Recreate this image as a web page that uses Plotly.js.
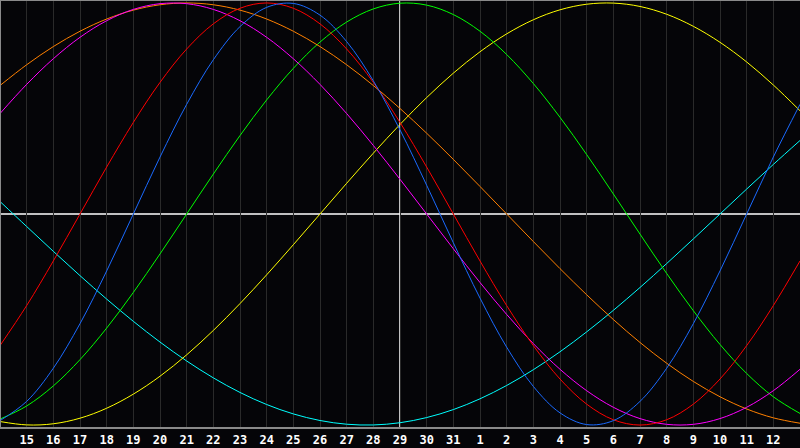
<!DOCTYPE html>
<html>
<head>
<meta charset="utf-8">
<script src="https://cdn.plot.ly/plotly-3.0.1.min.js"></script>
<style>
html,body{margin:0;padding:0;background:#050508;}
#chart{width:800px;height:448px;}
</style>
</head>
<body>
<div id="chart"></div>
<script>
// day positions (0 = day 14, 30 = day 13 of next month)
var dayIndex = [0,1,2,3,4,5,6,7,8,9,10,11,12,13,14,15,16,17,18,19,20,21,22,23,24,25,26,27,28,29,30];
var tickPositions = [1,2,3,4,5,6,7,8,9,10,11,12,13,14,15,16,17,18,19,20,21,22,23,24,25,26,27,28,29];
var tickLabels = ["15","16","17","18","19","20","21","22","23","24","25","26","27","28","29","30","31","1","2","3","4","5","6","7","8","9","10","11","12"];
var todayIndex = 15;

var physical23 = [-0.9791,-0.8879,-0.7308,-0.5196,-0.2698,0,0.2698,0.5196,0.7308,0.8879,0.9791,0.9977,0.9423,0.8170,0.6310,0.3984,0.1362,-0.1362,-0.3984,-0.6310,-0.8170,-0.9423,-0.9977,-0.9791,-0.8879,-0.7308,-0.5196,-0.2698,0,0.2698,0.5196];
var emotional28 = [-0.6235,-0.4339,-0.2225,0,0.2225,0.4339,0.6235,0.7818,0.9010,0.9749,1,0.9749,0.9010,0.7818,0.6235,0.4339,0.2225,0,-0.2225,-0.4339,-0.6235,-0.7818,-0.9010,-0.9749,-1,-0.9749,-0.9010,-0.7818,-0.6235,-0.4339,-0.2225];
var intellectual33 = [-0.9718,-0.9096,-0.8146,-0.6901,-0.5406,-0.3717,-0.1893,0,0.1893,0.3717,0.5406,0.6901,0.8146,0.9096,0.9718,0.9989,0.9898,0.9450,0.8660,0.7557,0.6182,0.4582,0.2817,0.0951,-0.0951,-0.2817,-0.4582,-0.6182,-0.7557,-0.8660,-0.9450];
var intuitive38 = [0.4759,0.6142,0.7357,0.8372,0.9158,0.9694,0.9966,0.9966,0.9694,0.9158,0.8372,0.7357,0.6142,0.4759,0.3247,0.1646,0,-0.1646,-0.3247,-0.4759,-0.6142,-0.7357,-0.8372,-0.9158,-0.9694,-0.9966,-0.9966,-0.9694,-0.9158,-0.8372,-0.7357];
var aesthetic43 = [-0.9834,-0.9993,-0.9940,-0.9675,-0.9203,-0.8535,-0.7687,-0.6673,-0.5517,-0.4244,-0.2881,-0.1456,0,0.1456,0.2881,0.4244,0.5517,0.6673,0.7687,0.8535,0.9203,0.9675,0.9940,0.9993,0.9834,0.9465,0.8893,0.8135,0.7204,0.6112,0.4894];
var awareness48 = [0.6088,0.7071,0.7934,0.8660,0.9239,0.9659,0.9914,1,0.9914,0.9659,0.9239,0.8660,0.7934,0.7071,0.6088,0.5,0.3827,0.2588,0.1305,0,-0.1305,-0.2588,-0.3827,-0.5,-0.6088,-0.7071,-0.7934,-0.8660,-0.9239,-0.9659,-0.9914];
var spiritual53 = [0.0593,-0.0593,-0.1769,-0.2921,-0.4031,-0.5085,-0.6068,-0.6965,-0.7764,-0.8456,-0.9028,-0.9473,-0.9785,-0.9961,-0.9996,-0.9890,-0.9646,-0.9267,-0.8757,-0.8125,-0.7378,-0.6528,-0.5585,-0.4566,-0.3482,-0.2349,-0.1182,0,0.1182,0.2349,0.3482];

var seriesList = [
  {name:"Spiritual", y:spiritual53, color:"#00ffff"},
  {name:"Aesthetic", y:aesthetic43, color:"#ffff00"},
  {name:"Intellectual", y:intellectual33, color:"#00ff00"},
  {name:"Awareness", y:awareness48, color:"#ff8000"},
  {name:"Intuitive", y:intuitive38, color:"#ff00ff"},
  {name:"Emotional", y:emotional28, color:"#ff0000"},
  {name:"Physical", y:physical23, color:"#1a6aff"}
];

var traces = seriesList.map(function(s){
  return {x:dayIndex, y:s.y, type:"scatter", mode:"lines", name:s.name,
    line:{color:s.color, width:1, shape:"spline", smoothing:1.0}, hoverinfo:"skip"};
});

var layout = {
  width:800, height:448,
  margin:{l:0, r:0, t:0, b:20, pad:0},
  paper_bgcolor:"#050508",
  plot_bgcolor:"#050508",
  showlegend:false,
  xaxis:{range:[0,30], tickmode:"array", tickvals:tickPositions, ticktext:tickLabels,
    showgrid:true, gridcolor:"#2a2a2a", gridwidth:1, zeroline:false, showline:false,
    ticks:"", ticklen:0, ticklabelstandoff:3,
    tickfont:{family:"DejaVu Sans Mono", size:12, color:"#ffffff", weight:"bold"}, fixedrange:true},
  yaxis:{range:[-1.014,1.014], showgrid:false, zeroline:false, showticklabels:false, showline:false, ticks:"", fixedrange:true},
  shapes:[
    {type:"line", xref:"paper", yref:"paper", x0:0, x1:1, y0:0, y1:0, line:{color:"#8a8a8a", width:2}},
    {type:"line", xref:"paper", yref:"paper", x0:0, x1:0, y0:0, y1:1, line:{color:"#8a8a8a", width:2}},
    {type:"line", xref:"paper", yref:"paper", x0:0, x1:1, y0:1, y1:1, line:{color:"#8a8a8a", width:2}},
    {type:"line", xref:"paper", yref:"y", x0:0, x1:1, y0:0, y1:0, line:{color:"#ffffff", width:1.5}, layer:"below"},
    {type:"line", xref:"x", yref:"paper", x0:todayIndex, x1:todayIndex, y0:0, y1:1, line:{color:"#ffffff", width:1.5}, layer:"below"}
  ]
};

Plotly.newPlot("chart", traces, layout, {staticPlot:true, displayModeBar:false});
</script>
</body>
</html>
